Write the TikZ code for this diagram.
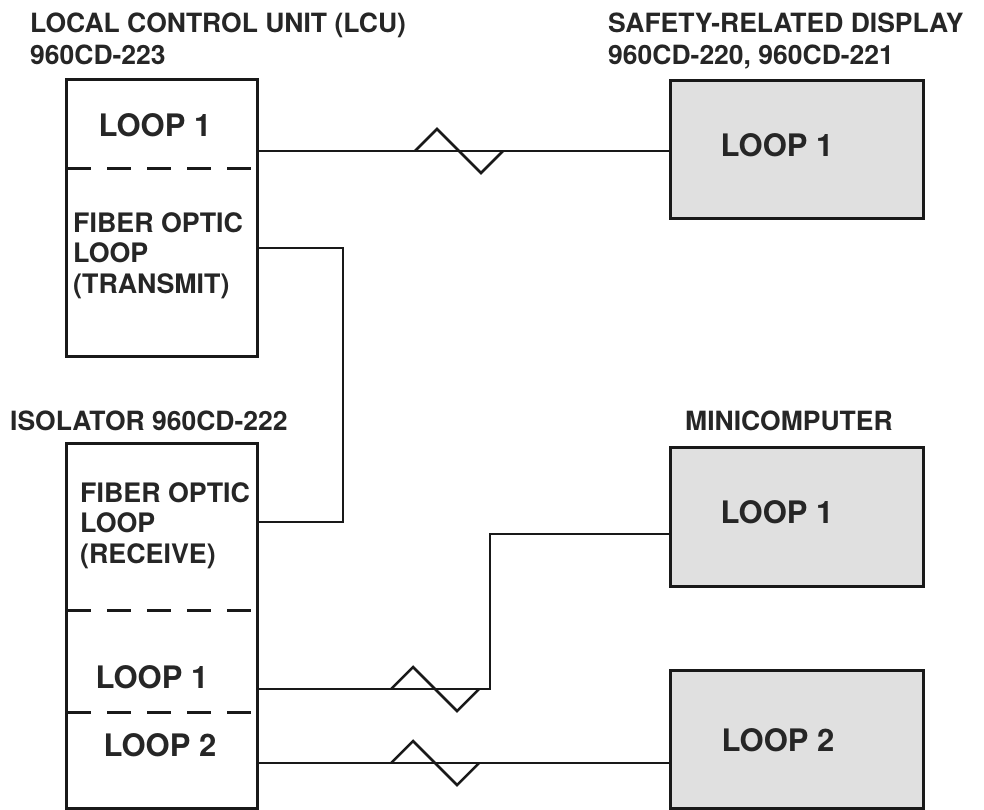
\documentclass[tikz,border=0pt]{standalone}
\usepackage{fontspec}
\setmainfont{TeX Gyre Heros}
\usetikzlibrary{arrows,shapes}
\tikzstyle{ubox}=[draw=black!90,line width=3pt,inner sep=0pt,anchor=north west]
\tikzstyle{gbox}=[ubox,fill=black!12]
\tikzstyle{hdr}=[anchor=north west,inner sep=0pt,align=left,text=black!85,font=\fontsize{26.5}{32}\selectfont\bfseries]
\tikzstyle{txt}=[anchor=north west,inner sep=0pt,align=left,text=black!85,font=\fontsize{26.8}{30.5}\selectfont\bfseries]
\tikzstyle{lbl}=[inner sep=0pt,text=black!85,font=\fontsize{31}{36}\selectfont\bfseries]
\tikzstyle{wire}=[line width=2.5pt,draw=black!90]
\tikzstyle{divline}=[line width=3pt,draw=black!90,dash pattern=on 24pt off 16pt,dash phase=38pt]

\begin{document}
\begin{tikzpicture}[x=1pt,y=-1pt]
\useasboundingbox (0,0) rectangle (984,809);
% boxes
\node[ubox,minimum width=191pt,minimum height=277pt] (lcu) at (65,78) {};
\node[ubox,minimum width=191pt,minimum height=365pt] (iso) at (65,442) {};
\node[gbox,minimum width=253pt,minimum height=138pt] (srd) at (669,79) {};
\node[gbox,minimum width=253pt,minimum height=139pt] (mc1) at (669,446) {};
\node[gbox,minimum width=253pt,minimum height=138pt] (mc2) at (669,669) {};
% headings
\node[hdr] (hlcu) at (30,13) {LOCAL CONTROL UNIT (LCU)\\960CD-223};
\node[hdr] (hsrd) at (608,13) {SAFETY-RELATED DISPLAY\\960CD-220, 960CD-221};
\node[hdr] (hiso) at (10,411) {ISOLATOR 960CD-222};
\node[hdr] (hmc) at (685,411) {MINICOMPUTER};
% texts in boxes
\node[lbl] (lcuA) at (155,125) {LOOP 1};
\node[txt] (lcuB) at (73,212) {FIBER OPTIC\\LOOP\\(TRANSMIT)};
\node[txt] (isoA) at (80,482) {FIBER OPTIC\\LOOP\\(RECEIVE)};
\node[lbl] (isoB) at (152,677) {LOOP 1};
\node[lbl] (isoC) at (160,745) {LOOP 2};
\node[lbl] (srdA) at (777,145) {LOOP 1};
\node[lbl] (mc1A) at (777,512) {LOOP 1};
\node[lbl] (mc2A) at (778,740) {LOOP 2};
% dashed dividers
\draw[divline] (lcu.west |- 0,168) -- (lcu.east |- 0,168);
\draw[divline] (iso.west |- 0,610) -- (iso.east |- 0,610);
\draw[divline] (iso.west |- 0,712) -- (iso.east |- 0,712);
% links
\coordinate (bend1) at (343,248);
\coordinate (bend2) at (490,534);
\draw[wire] (lcu.east |- 0,151) -- (srd.west |- 0,151);
\draw[wire] (lcu.east |- bend1) -- (bend1) -- (bend1 |- 0,522) -- (iso.east |- 0,522);
\draw[wire] (iso.east |- 0,689) -- (bend2 |- 0,689) -- (bend2) -- (mc1.west |- bend2);
\draw[wire] (iso.east |- 0,763) -- (mc2.west |- 0,763);
% line symbols
\foreach \x/\y in {415/151,391/689,391/763}
  \draw[wire,line join=miter] (\x,\y) -- ++(22,-22) -- ++(44,44) -- ++(22,-22);
\end{tikzpicture}
\end{document}
